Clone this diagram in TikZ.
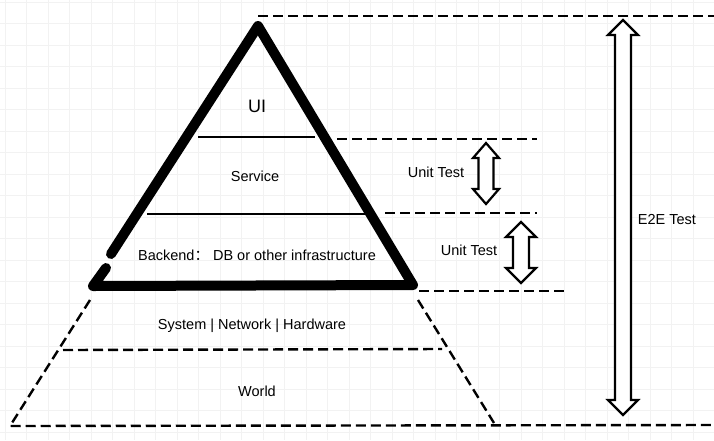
\documentclass[tikz,border=0pt]{standalone}
\usepackage{fontspec}
\setmainfont{Liberation Sans}
\newfontfamily\cjk{Noto Sans CJK SC}
\newcommand\hdarrow[6]{%
  \draw[arrowline] (#1,#2) -- ({#1+#5},{#2+#6}) -- ({#1+#4},{#2+#6}) -- ({#1+#4},{#3-#6}) -- ({#1+#5},{#3-#6}) -- (#1,#3)
   -- ({#1-#5},{#3-#6}) -- ({#1-#4},{#3-#6}) -- ({#1-#4},{#2+#6}) -- ({#1-#5},{#2+#6}) -- cycle;}
\begin{document}
\begin{tikzpicture}[x=1pt,y=-1pt,
  gridline/.style={draw=black!5, line width=0.6pt},
  thickside/.style={line width=10pt, line cap=round, line join=round},
  divider/.style={line width=1.6pt},
  dashline/.style={line width=2.4pt, dash pattern=on 10pt off 5pt},
  arrowline/.style={line width=2.2pt, line join=miter, fill=white},
  lbl/.style={font=\fontsize{14.5}{17}\selectfont, inner sep=0pt},
  big/.style={font=\fontsize{18}{21}\selectfont, inner sep=0pt}]
\useasboundingbox (0,0) rectangle (714,440);
\fill[white] (0,0) rectangle (714,440);
\foreach \i in {0,...,33} \draw[gridline] ({5+21.5*\i},0) -- ({5+21.5*\i},440);
\foreach \j in {0,...,20} \draw[gridline] (0,{2+21.5*\j}) -- (714,{2+21.5*\j});

% thick triangle
\coordinate (apex) at (258,26);
\coordinate (lend) at (111,254);
\coordinate (hookA) at (106,268);
\coordinate (bl) at (93,286);
\coordinate (br) at (413,285);
\draw[thickside] (lend) -- (apex) -- (br) -- (bl) -- (hookA);

% dividers
\coordinate (d1a) at (198,137); \coordinate (d1b) at (315,137);
\coordinate (d2a) at (147,214); \coordinate (d2b) at (367,214);
\draw[divider] (d1a) -- (d1b);
\draw[divider] (d2a) -- (d2b);

% dashed guides
\coordinate (t1a) at (258,16); \coordinate (t1b) at (714,16);
\coordinate (t2a) at (337,139); \coordinate (t2b) at (537,139);
\coordinate (t3a) at (385,213); \coordinate (t3b) at (537,213);
\coordinate (t4a) at (419,291); \coordinate (t4b) at (567,291);
\draw[dashline] (t1a) -- (t1b);
\draw[dashline] (t2a) -- (t2b);
\draw[dashline] (t3a) -- (t3b);
\draw[dashline] (t4a) -- (t4b);

% dashed trapezoid
\coordinate (zl1) at (90,300); \coordinate (zl2) at (10,426);
\coordinate (zr1) at (418,300); \coordinate (zr2) at (494,423);
\coordinate (zb) at (714,425);
\coordinate (ma) at (63,350); \coordinate (mb) at (442,349);
\draw[dashline] (zl1) -- (zl2) -- (zb);
\draw[dashline] (zr1) -- (zr2);
\draw[dashline] (ma) -- (mb);

% labels
\node[big] (ui) at (257,106) {UI};
\node[lbl] (svc) at (255,176) {Service};
\node[lbl] (be) at (257,255) {Backend{\cjk ：} DB or other infrastructure};
\node[lbl] (sys) at (252,326) {System | Network | Hardware};
\node[lbl] (world) at (257,391) {World};
\node[lbl] (ut1) at (436,172) {Unit Test};
\node[lbl] (ut2) at (469,250) {Unit Test};
\node[lbl] (e2e) at (667,220) {E2E Test};

% hollow double arrows
\hdarrow{486}{143}{204}{7.5}{13}{15}
\hdarrow{521}{222}{283}{8}{15}{15}
\hdarrow{623}{20}{415}{8}{15}{15}
\end{tikzpicture}
\end{document}
